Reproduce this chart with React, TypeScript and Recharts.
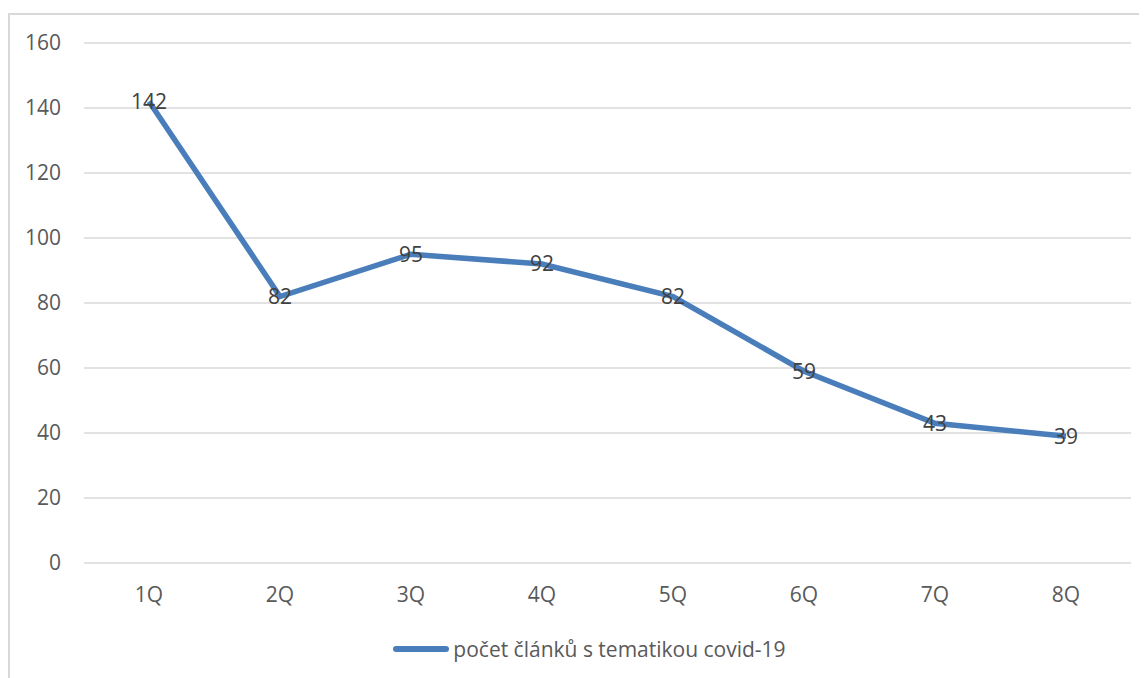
import React from "react";
import { LineChart, Line, XAxis, YAxis, CartesianGrid, Legend, LabelList } from "recharts";

const categories = ["1Q", "2Q", "3Q", "4Q", "5Q", "6Q", "7Q", "8Q"];
const values = [142, 82, 95, 92, 82, 59, 43, 39];
const yTicks = [0, 20, 40, 60, 80, 100, 120, 140, 160];
const seriesName = "počet článků s tematikou covid-19";

const data = categories.map((c, i) => ({ q: c, v: values[i] }));

const FONT = "'Open Sans', 'Liberation Sans', sans-serif";
const LINE_COLOR = "#4a7ebb";

const LegendContent = () => (
  <div style={{ display: "flex", justifyContent: "center", alignItems: "center", fontFamily: FONT, fontSize: 21, color: "#595959", height: 27 }}>
    <svg width={58} height={12} style={{ marginRight: 3 }}>
      <line x1={4} y1={6} x2={54} y2={6} stroke={LINE_COLOR} strokeWidth={6} strokeLinecap="round" />
    </svg>
    <span>{seriesName}</span>
  </div>
);

export default function App() {
  return (
    <div style={{ marginTop: 5, borderLeft: "2px solid #d9d9d9", borderTop: "2px solid #d9d9d9", width: 1160, height: 680, boxSizing: "border-box", background: "#fff" }}>
      <LineChart width={1158} height={670} data={data} margin={{ top: 28, right: 37, left: 0, bottom: 55 }}>
        <CartesianGrid vertical={false} stroke="#d9d9d9" strokeWidth={1.5} />
        <XAxis
          dataKey="q"
          axisLine={false}
          tickLine={false}
          tickSize={0}
          tickMargin={24}
          height={40}
          padding={{ left: 65, right: 65 }}
          tick={{ fill: "#595959", fontSize: 21, fontFamily: FONT }}
        />
        <YAxis
          domain={[0, 160]}
          ticks={yTicks}
          axisLine={false}
          tickLine={false}
          tickSize={0}
          tickMargin={23}
          width={74}
          tick={{ fill: "#595959", fontSize: 21, fontFamily: FONT }}
        />
        <Legend
          content={<LegendContent />}
          wrapperStyle={{ position: "absolute", top: 620, left: 0, width: 1158 }}
        />
        <Line
          type="linear"
          dataKey="v"
          name={seriesName}
          stroke={LINE_COLOR}
          strokeWidth={5.5}
          dot={false}
          activeDot={false}
          isAnimationActive={false}
        >
          <LabelList dataKey="v" position="center" fill="#404040" fontSize={21} fontFamily={FONT} />
        </Line>
      </LineChart>
    </div>
  );
}
